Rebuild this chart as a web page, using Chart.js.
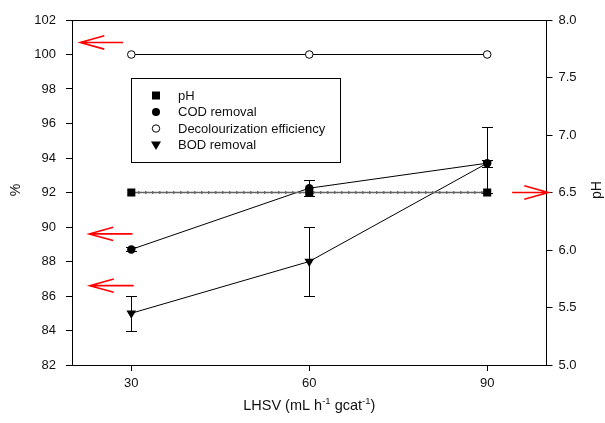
<!DOCTYPE html>
<html><head><meta charset="utf-8">
<script src="https://cdn.jsdelivr.net/npm/chart.js@4.4.1/dist/chart.umd.min.js"></script>
<style>html,body{margin:0;padding:0;background:#fff;}canvas{display:block;}</style>
</head><body>
<canvas id="c" width="605" height="423"></canvas>
<script>
// ---- data ----
const xValues = [30, 60, 90];
const xTickValues = [30, 60, 90];
const phValues = [6.5, 6.5, 6.5];
const codRemoval = [88.7, 92.25, 93.7];
const codErr = [0.12, 0.45, 0.2];
const decolEfficiency = [100, 100, 100];
const bodRemoval = [85.0, 88.0, 93.7];
const bodErrLow = [1.0, 2.0, 1.7];
const bodErrHigh = [1.0, 2.0, 2.1];
const legendLabels = ['pH', 'COD removal', 'Decolourization efficiency', 'BOD removal'];
const xTitle = ['LHSV (mL h', '-1', ' gcat', '-1', ')'];
const leftTitle = '%';
const rightTitle = 'pH';
// red arrows (data coordinates)
const arrowLeftY = [100.7, 89.6, 86.6];
const arrowLeftTipX = [21.4, 22.9, 23.0];
const arrowLeftTailX = [28.6, 30.2, 30.4];
const arrowRightY = [6.5];
const arrowRightTipX = [100.3];
const arrowRightTailX = [94.2];

const FONT = "'Liberation Sans', Arial, sans-serif";
const pts = (ys) => xValues.map((x, i) => ({x: x, y: ys[i]}));

function errBar(ctx, xs, ys, x, lo, hi) {
  const px = Math.round(xs.getPixelForValue(x)) + 0.5;
  const p1 = Math.round(ys.getPixelForValue(lo)) + 0.5;
  const p2 = Math.round(ys.getPixelForValue(hi)) + 0.5;
  ctx.beginPath();
  ctx.moveTo(px, p1); ctx.lineTo(px, p2);
  ctx.moveTo(px - 5.5, p1); ctx.lineTo(px + 5.5, p1);
  ctx.moveTo(px - 5.5, p2); ctx.lineTo(px + 5.5, p2);
  ctx.stroke();
}
function arrow(ctx, tipX, tailX, y) {
  const dir = tailX > tipX ? 1 : -1;
  ctx.beginPath();
  ctx.moveTo(tailX, y); ctx.lineTo(tipX, y);
  ctx.moveTo(tipX + dir * 24, y - 6.7); ctx.lineTo(tipX, y); ctx.lineTo(tipX + dir * 24, y + 6.7);
  ctx.stroke();
}

const decor = {
  id: 'decor',
  beforeDatasetsDraw(chart) {
    const ctx = chart.ctx, xs = chart.scales.x, ys = chart.scales.y;
    ctx.save();
    ctx.strokeStyle = '#000'; ctx.lineWidth = 1;
    xValues.forEach((x, i) => {
      errBar(ctx, xs, ys, x, codRemoval[i] - codErr[i], codRemoval[i] + codErr[i]);
      errBar(ctx, xs, ys, x, bodRemoval[i] - bodErrLow[i], bodRemoval[i] + bodErrHigh[i]);
    });
    ctx.restore();
  },
  afterDraw(chart) {
    const ctx = chart.ctx, a = chart.chartArea;
    const xs = chart.scales.x, ys = chart.scales.y, ys1 = chart.scales.y1;
    ctx.save();
    // top border
    ctx.strokeStyle = '#000'; ctx.lineWidth = 1;
    ctx.beginPath(); ctx.moveTo(a.left, Math.round(a.top) + 0.5); ctx.lineTo(a.right, Math.round(a.top) + 0.5); ctx.stroke();
    // arrows
    ctx.strokeStyle = '#ff0000'; ctx.lineWidth = 1.6;
    arrowLeftY.forEach((v, i) => arrow(ctx, xs.getPixelForValue(arrowLeftTipX[i]), xs.getPixelForValue(arrowLeftTailX[i]), ys.getPixelForValue(v)));
    arrowRightY.forEach((v, i) => arrow(ctx, xs.getPixelForValue(arrowRightTipX[i]), xs.getPixelForValue(arrowRightTailX[i]), ys1.getPixelForValue(v)));
    // legend
    ctx.strokeStyle = '#000'; ctx.lineWidth = 1;
    ctx.fillStyle = '#fff';
    ctx.fillRect(131.5, 78.5, 209, 84);
    ctx.strokeRect(131.5, 78.5, 209, 84);
    const rowY = [95.5, 112, 128.5, 145];
    const sx = 156;
    ctx.font = '13px ' + FONT; ctx.textBaseline = 'middle'; ctx.textAlign = 'left';
    legendLabels.forEach((lab, i) => {
      const y = rowY[i];
      ctx.fillStyle = '#000';
      ctx.beginPath();
      if (i === 0) { ctx.rect(sx - 4, y - 4, 8, 8); ctx.fill(); }
      else if (i === 1) { ctx.arc(sx, y, 4, 0, Math.PI * 2); ctx.fill(); }
      else if (i === 2) { ctx.arc(sx, y, 3.7, 0, Math.PI * 2); ctx.fillStyle = '#fff'; ctx.fill(); ctx.stroke(); }
      else { ctx.moveTo(sx - 5, y - 3.5); ctx.lineTo(sx + 5, y - 3.5); ctx.lineTo(sx, y + 5); ctx.closePath(); ctx.fill(); }
      ctx.fillStyle = '#111';
      ctx.fillText(lab, 178, y + 0.5);
    });
    // axis titles
    ctx.fillStyle = '#111';
    ctx.font = '14px ' + FONT;
    ctx.textAlign = 'center';
    ctx.save(); ctx.translate(16, 190); ctx.rotate(-Math.PI / 2); ctx.fillText(leftTitle, 0, 0); ctx.restore();
    ctx.save(); ctx.translate(597, 190); ctx.rotate(-Math.PI / 2); ctx.fillText(rightTitle, 0, 0); ctx.restore();
    // x title with superscripts
    const big = '14.5px ' + FONT, small = '9.5px ' + FONT;
    let widths = xTitle.map((s, i) => { ctx.font = (i % 2 === 1) ? small : big; return ctx.measureText(s).width; });
    const total = widths.reduce((p, c) => p + c, 0);
    let x = xs.getPixelForValue(60) - total / 2;
    const by = 409.5;
    ctx.textAlign = 'left'; ctx.textBaseline = 'alphabetic';
    xTitle.forEach((s, i) => {
      ctx.font = (i % 2 === 1) ? small : big;
      ctx.fillText(s, x, (i % 2 === 1) ? by - 6 : by);
      x += widths[i];
    });
    ctx.restore();
  }
};

const tickFont = {family: FONT, size: 13};
new Chart(document.getElementById('c'), {
  type: 'scatter',
  data: {
    datasets: [
      {label: 'pH', data: pts(phValues), yAxisID: 'y1', showLine: true,
       borderColor: '#666', borderWidth: 1.6, pointStyle: 'rect', pointRadius: 5.7,
       pointBackgroundColor: '#000', pointBorderColor: '#000', pointBorderWidth: 0},
      {label: 'pH-dash', data: pts(phValues), yAxisID: 'y1', showLine: true,
       borderColor: '#333', borderWidth: 3, borderDash: [1, 6], pointRadius: 0},
      {label: 'COD removal', data: pts(codRemoval), yAxisID: 'y', showLine: true,
       borderColor: '#000', borderWidth: 1, pointStyle: 'circle', pointRadius: 4.2,
       pointBackgroundColor: '#000', pointBorderColor: '#000', pointBorderWidth: 0},
      {label: 'Decolourization efficiency', data: pts(decolEfficiency), yAxisID: 'y', showLine: true,
       borderColor: '#000', borderWidth: 1, pointStyle: 'circle', pointRadius: 3.8,
       pointBackgroundColor: '#fff', pointBorderColor: '#000', pointBorderWidth: 1},
      {label: 'BOD removal', data: pts(bodRemoval), yAxisID: 'y', showLine: true,
       borderColor: '#000', borderWidth: 1, pointStyle: 'triangle', pointRotation: 180, pointRadius: 5.6,
       pointBackgroundColor: '#000', pointBorderColor: '#000', pointBorderWidth: 0}
    ]
  },
  options: {
    responsive: false, animation: false, devicePixelRatio: 1,
    layout: {padding: {top: 20, left: 0, right: 0, bottom: 0}},
    plugins: {legend: {display: false}, tooltip: {enabled: false}},
    elements: {line: {tension: 0}},
    scales: {
      x: {type: 'linear', min: 20, max: 100,
          afterBuildTicks: s => { s.ticks = xTickValues.map(v => ({value: v})); },
          afterFit: s => { s.height = 58; },
          grid: {drawOnChartArea: false, drawTicks: true, tickLength: 6, color: '#000'},
          border: {display: true, color: '#000', width: 1},
          ticks: {font: tickFont, color: '#111', padding: 5, maxRotation: 0}},
      y: {type: 'linear', position: 'left', min: 82, max: 102,
          afterFit: s => { s.width = 72; },
          grid: {drawOnChartArea: false, drawTicks: true, tickLength: 6, color: '#000'},
          border: {display: true, color: '#000', width: 1},
          ticks: {stepSize: 2, font: tickFont, color: '#111', padding: 10}},
      y1: {type: 'linear', position: 'right', min: 5, max: 8,
          afterFit: s => { s.width = 58.5; },
          grid: {drawOnChartArea: false, drawTicks: true, tickLength: 6, color: '#000'},
          border: {display: true, color: '#000', width: 1},
          ticks: {stepSize: 0.5, font: tickFont, color: '#111', padding: 6, callback: v => v.toFixed(1)}}
    }
  },
  plugins: [decor]
});
</script>
</body></html>
